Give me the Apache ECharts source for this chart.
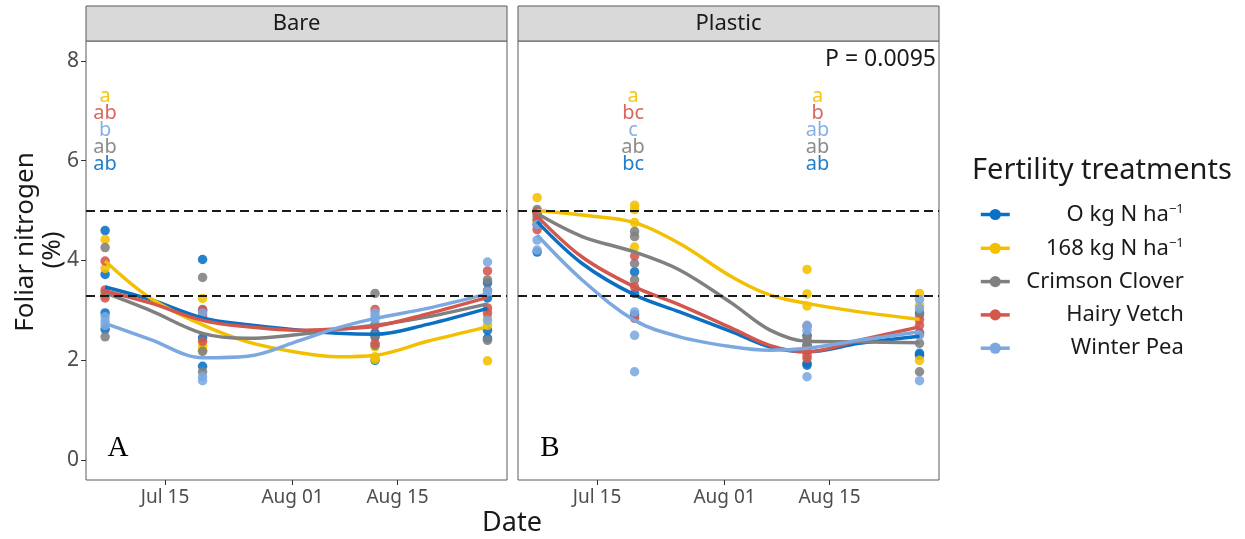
<!DOCTYPE html>
<html><head><meta charset="utf-8">
<script src="https://cdn.jsdelivr.net/npm/echarts@6/dist/echarts.min.js"></script>
<style>html,body{margin:0;padding:0;background:#fff}#chart{width:1245px;height:539px}</style>
</head><body><div id="chart"></div>
<script>
// ---------- data ----------
const FONT = 'Noto Sans';
const panels = ['Bare', 'Plastic'];
const treatments = ['O kg N ha-1', '168 kg N ha-1', 'Crimson Clover', 'Hairy Vetch', 'Winter Pea'];
const colors = ['#0A70C4', '#F2C000', '#808080', '#D4574E', '#7BA8E0'];

// x values are day numbers (Jul 1 = 1, Aug 1 = 32)
const sampleDays = [7, 20, 43, 58];           // Jul 07, Jul 20, Aug 12, Aug 27
const tickDays = [15, 32, 46];
const tickLabels = ['Jul 15', 'Aug 01', 'Aug 15'];
const yTicks = [0, 2, 4, 6, 8];
const refLevels = [5, 3.3];

// observed foliar N (%) per sampling date, panel A (Bare)
const bareZeroN   = [[4.60, 3.72, 2.95, 2.62], [4.02, 3.00, 2.45, 1.88], [2.71, 2.55, 2.47, 2.00], [3.55, 3.25, 2.60, 2.44]];
const bare168N    = [[4.42, 3.84, 3.30], [3.24, 2.28, 2.20], [2.27, 2.07, 2.02], [2.87, 2.70, 1.99]];
const bareClover  = [[4.26, 3.35, 2.47], [3.66, 2.18, 1.77], [3.34, 2.50, 2.30], [3.61, 3.40, 2.40]];
const bareVetch   = [[3.99, 3.41, 3.25], [3.02, 2.90, 2.38], [3.02, 2.70, 2.34], [3.79, 3.05, 2.95]];
const barePea     = [[2.87, 2.78, 2.70], [2.95, 1.67, 1.59], [2.95, 2.88, 2.81], [3.97, 3.37, 2.80]];
// panel B (Plastic)
const plasticZeroN  = [[4.98, 4.72, 4.17], [3.77, 3.34, 2.91], [2.50, 2.30, 1.94, 1.90], [2.95, 2.55, 2.14, 2.10]];
const plastic168N   = [[5.26, 4.95, 4.80], [5.11, 5.02, 4.76, 4.27], [3.82, 3.33, 3.09], [3.34, 3.10, 2.00]];
const plasticClover = [[5.02, 4.94, 4.88], [4.58, 4.48, 3.94, 3.61], [2.47, 2.40, 2.30, 2.27], [2.91, 2.34, 1.77]];
const plasticVetch  = [[4.97, 4.81, 4.62], [4.09, 3.47, 2.84], [2.68, 2.20, 2.10, 2.04], [2.81, 2.70, 2.54]];
const plasticPea    = [[4.72, 4.41, 4.21], [2.97, 2.50, 1.77], [2.70, 2.60, 1.67], [3.22, 3.04, 2.50, 1.59]];

// smoothed trend curves
const fitDays = [7, 13, 20, 26, 33, 38, 43, 50, 58];
const bareFitZeroN  = [3.47, 3.22, 2.85, 2.71, 2.60, 2.54, 2.52, 2.72, 3.04];
const bareFit168N   = [3.99, 3.25, 2.71, 2.37, 2.15, 2.07, 2.10, 2.38, 2.67];
const bareFitClover = [3.35, 3.00, 2.54, 2.44, 2.52, 2.62, 2.70, 2.87, 3.13];
const bareFitVetch  = [3.39, 3.15, 2.80, 2.67, 2.60, 2.63, 2.68, 2.93, 3.26];
const bareFitPea    = [2.74, 2.42, 2.05, 2.08, 2.40, 2.65, 2.84, 3.04, 3.33];
const plasticFitZeroN  = [4.78, 3.94, 3.31, 2.97, 2.57, 2.27, 2.17, 2.34, 2.48];
const plasticFit168N   = [5.00, 4.91, 4.76, 4.34, 3.67, 3.31, 3.14, 2.97, 2.82];
const plasticFitClover = [4.94, 4.48, 4.17, 3.81, 3.14, 2.61, 2.38, 2.37, 2.35];
const plasticFitVetch  = [4.89, 4.07, 3.47, 3.11, 2.64, 2.30, 2.17, 2.40, 2.67];
const plasticFitPea    = [4.51, 3.61, 2.80, 2.47, 2.27, 2.20, 2.24, 2.40, 2.57];

// significance letters (order: 168N, Vetch, Pea, Clover, 0N)
const letterOrder = [1, 3, 4, 2, 0];
const letterY = [7.30, 6.95, 6.62, 6.27, 5.92];
const bareLetterDays = [7];
const bareLetters = [['a', 'ab', 'b', 'ab', 'ab']];
const plasticLetterDays = [19.8, 44.4];
const plasticLetters = [['a', 'bc', 'c', 'ab', 'bc'], ['a', 'b', 'ab', 'ab', 'ab']];
const pValueText = 'P = 0.0095';
const panelTags = ['A', 'B'];

// ---------- build ----------
const obs = [[bareZeroN, bare168N, bareClover, bareVetch, barePea],
             [plasticZeroN, plastic168N, plasticClover, plasticVetch, plasticPea]];
const fits = [[bareFitZeroN, bareFit168N, bareFitClover, bareFitVetch, bareFitPea],
              [plasticFitZeroN, plasticFit168N, plasticFitClover, plasticFitVetch, plasticFitPea]];
const letterDays = [bareLetterDays, plasticLetterDays];
const letterSets = [bareLetters, plasticLetters];

const G = [{left: 86, top: 41, width: 421, height: 439}, {left: 518, top: 41, width: 421, height: 439}];
const X_MIN = 4.45, X_MAX = 60.6, Y_MIN = -0.4, Y_MAX = 8.4;

const series = [];
for (let p = 0; p < 2; p++) {
  treatments.forEach((name, t) => {
    series.push({
      type: 'line', name, xAxisIndex: p, yAxisIndex: p,
      data: fitDays.map((d, i) => [d, fits[p][t][i]]),
      smooth: 0.35, showSymbol: false, symbol: 'circle', symbolSize: 9,
      lineStyle: {width: 3.5, color: colors[t]}, itemStyle: {color: colors[t]},
      z: 4, silent: true, animation: false
    });
  });
}
for (let p = 0; p < 2; p++) {
  treatments.forEach((name, t) => {
    const pts = [];
    obs[p][t].forEach((vals, di) => vals.forEach(v => pts.push([sampleDays[di], v])));
    series.push({
      type: 'scatter', name, xAxisIndex: p, yAxisIndex: p, data: pts,
      symbolSize: 9.5, itemStyle: {color: colors[t], opacity: 0.88}, z: 3, silent: true, animation: false
    });
  });
  const ld = [];
  letterDays[p].forEach((d, k) => {
    letterSets[p][k].forEach((txt, r) => {
      ld.push({name: txt, value: [d, letterY[r]], label: {color: colors[letterOrder[r]]}});
    });
  });
  series.push({
    type: 'scatter', name: 'letters' + p, xAxisIndex: p, yAxisIndex: p, data: ld,
    symbolSize: 0, silent: true, animation: false, z: 2,
    label: {show: true, position: 'inside', formatter: '{b}', fontFamily: FONT, fontSize: 20, opacity: 0.9},
    markLine: {
      silent: true, symbol: 'none', animation: false,
      label: {show: false},
      lineStyle: {type: [9, 5], color: '#1a1a1a', width: 1.9},
      data: refLevels.map(v => ({yAxis: v}))
    }
  });
}

const grids = G.map(g => Object.assign({show: true, borderColor: '#5a5a5a', borderWidth: 1, backgroundColor: '#fff', outerBoundsMode: 'none', containLabel: false}, g));
const xAxes = G.map((g, i) => ({
  type: 'value', gridIndex: i, min: X_MIN, max: X_MAX, position: 'bottom',
  splitLine: {show: false}, axisLine: {show: false, onZero: false},
  axisTick: {show: true, customValues: tickDays, length: 5, lineStyle: {color: '#333'}},
  axisLabel: {show: true, customValues: tickDays, formatter: v => tickLabels[tickDays.indexOf(v)],
              color: '#4d4d4d', fontSize: 19, fontFamily: FONT, margin: 8}
}));
const yAxes = G.map((g, i) => ({
  type: 'value', gridIndex: i, min: Y_MIN, max: Y_MAX, position: 'left',
  splitLine: {show: false}, axisLine: {show: false, onZero: false},
  axisTick: {show: i === 0, customValues: yTicks, length: 5, lineStyle: {color: '#333'}},
  axisLabel: {show: i === 0, customValues: yTicks, color: '#4d4d4d', fontSize: 21, fontFamily: FONT, margin: 7}
}));

const graphics = [];
G.forEach((g, i) => {
  graphics.push({type: 'rect', shape: {x: g.left, y: 6, width: g.width, height: 35},
    style: {fill: '#d9d9d9', stroke: '#5a5a5a', lineWidth: 1}, silent: true});
  graphics.push({type: 'text', x: g.left + g.width / 2, y: 24,
    style: {text: panels[i], font: '22px "' + FONT + '"', fill: '#1a1a1a', align: 'center', verticalAlign: 'middle'}, silent: true});
  graphics.push({type: 'text', x: g.left + 32, y: 448,
    style: {text: panelTags[i], font: '29px "Liberation Serif"', fill: '#000', align: 'center', verticalAlign: 'middle'}, silent: true, z: 10});
});
graphics.push({type: 'text', x: 936, y: 59,
  style: {text: pValueText, font: '23px "' + FONT + '"', fill: '#1a1a1a', align: 'right', verticalAlign: 'middle'}, silent: true, z: 10});
graphics.push({type: 'text', x: 512, y: 523,
  style: {text: 'Date', font: '27px "' + FONT + '"', fill: '#1a1a1a', align: 'center', verticalAlign: 'middle'}, silent: true});
graphics.push({type: 'text', x: 26, y: 242, rotation: Math.PI / 2,
  style: {text: 'Foliar nitrogen', font: '26px "' + FONT + '"', fill: '#1a1a1a', align: 'center', verticalAlign: 'middle'}, silent: true});
graphics.push({type: 'text', x: 53, y: 250, rotation: Math.PI / 2,
  style: {text: '(%)', font: '26px "' + FONT + '"', fill: '#1a1a1a', align: 'center', verticalAlign: 'middle'}, silent: true});
graphics.push({type: 'text', x: 972, y: 171,
  style: {text: 'Fertility treatments', font: '29px "' + FONT + '"', fill: '#1a1a1a', align: 'left', verticalAlign: 'middle'}, silent: true});

const option = {
  animation: false,
  backgroundColor: '#fff',
  grid: grids, xAxis: xAxes, yAxis: yAxes,
  legend: {
    data: treatments, orient: 'vertical', left: 974, top: 198,
    itemWidth: 29, itemHeight: 14, itemGap: 11.3, selectedMode: false,
    lineStyle: {width: 3.5},
    formatter: name => {
      const m = name.match(/^(.*)-1$/);
      return m ? '{n|' + m[1] + '}{s|−1}' : '{n|' + name + '}';
    },
    textStyle: {
      width: 169, fontFamily: FONT, fontSize: 22, color: '#1a1a1a',
      rich: {
        n: {fontFamily: FONT, fontSize: 22, color: '#1a1a1a', align: 'right', lineHeight: 23},
        s: {fontFamily: FONT, fontSize: 13, color: '#1a1a1a', align: 'right', verticalAlign: 'top', lineHeight: 13}
      }
    }
  },
  graphic: graphics,
  series
};
const chart = echarts.init(document.getElementById('chart'), null, {renderer: 'canvas'});
chart.setOption(option);
</script></body></html>
